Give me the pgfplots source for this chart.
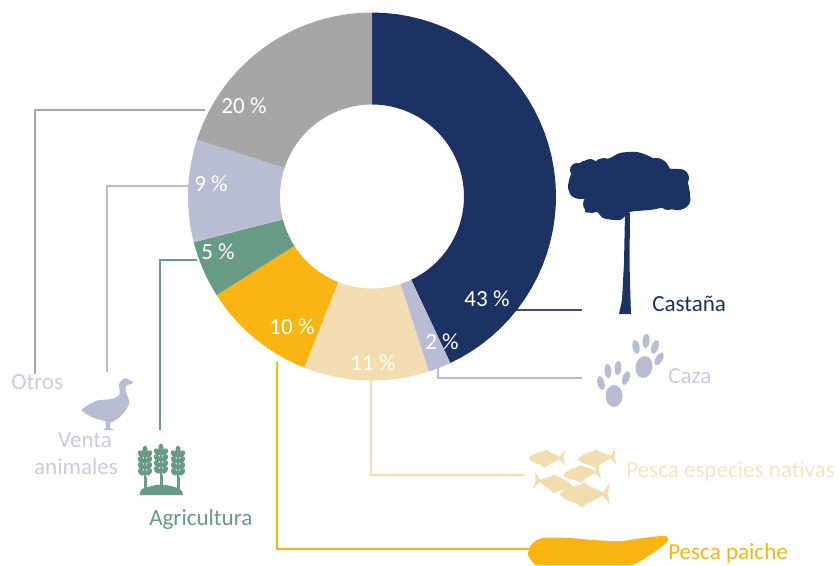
\documentclass[border=0pt]{standalone}
\usepackage{pgfplots}
\pgfplotsset{compat=1.18}
\usepackage{fontspec}
\setmainfont{Carlito}
\definecolor{navy}{HTML}{1B3263}
\definecolor{grisc}{HTML}{A6A6A6}
\definecolor{lav}{HTML}{B8BDD3}
\definecolor{verde}{HTML}{679B86}
\definecolor{ambar}{HTML}{F9B512}
\definecolor{crema}{HTML}{F2DDB1}
\definecolor{cremat}{HTML}{F3E5C8}
\definecolor{lavt}{HTML}{C9CCDC}

% Ring segment running clockwise from the top: #1 share in percent, #2 colour
\newcounter{cumul}
\newcommand\slice[2]{%
  \pgfmathsetmacro\angA{90-3.6*\value{cumul}}%
  \pgfmathsetmacro\angB{\angA-3.6*#1}%
  \gdef\ringpts{}%
  \foreach \i in {0,...,40}{%
    \pgfmathsetmacro\aa{\angA+(\angB-\angA)*\i/40}%
    \pgfmathsetmacro\px{372+184*cos(\aa)}%
    \pgfmathsetmacro\py{196.5-184*sin(\aa)}%
    \xdef\ringpts{\ringpts (\px,\py)}%
  }%
  \foreach \i in {40,...,0}{%
    \pgfmathsetmacro\aa{\angA+(\angB-\angA)*\i/40}%
    \pgfmathsetmacro\px{372+92*cos(\aa)}%
    \pgfmathsetmacro\py{196.5-92*sin(\aa)}%
    \xdef\ringpts{\ringpts (\px,\py)}%
  }%
  \edef\doslice{\noexpand\addplot[fill=#2,draw=none,no marks,forget plot] coordinates {\ringpts} -- cycle;}%
  \doslice
  \addtocounter{cumul}{#1}%
}

\tikzset{
  fish/.pic={
    \fill plot[smooth cycle,tension=.55] coordinates {(-.5,0)(-.36,.12)(-.15,.2)(-.05,.27)(.02,.2)(.2,.11)(.38,.02)(.38,-.02)(.2,-.11)(.05,-.18)(0,-.23)(-.08,-.19)(-.3,-.13)};
    \fill (.33,0)--(.5,.22)--(.46,0)--(.5,-.22)--cycle;},
  wheat/.pic={
    \fill (-1.5,0) rectangle (1.5,16);
    \foreach \yy in {-23,-17,-11,-5}{
      \fill (-3.8,\yy) ellipse [x radius=4.2,y radius=2.8,rotate=-50];
      \fill (3.8,\yy) ellipse [x radius=4.2,y radius=2.8,rotate=50];
    }
    \fill (0,-26) ellipse [x radius=2.8,y radius=5.5];
    \fill (-.8,-26) rectangle (.8,0);}
}

\begin{document}
\begin{tikzpicture}
\useasboundingbox (0,0) rectangle (629.25pt,423.75pt);
\begin{axis}[at={(0,0)},anchor=south west,scale only axis,width=629.25pt,height=423.75pt,
  xmin=0,xmax=839,ymin=0,ymax=565,y dir=reverse,hide axis,clip=false]
% Leader lines from each segment to its caption
\addplot[grisc,line width=1.2pt,no marks,forget plot] coordinates {(205,110)(35,110)(35,374)};
\addplot[lav,line width=1.2pt,no marks,forget plot] coordinates {(190,186)(107,186)(107,372)};
\addplot[verde,line width=1.2pt,no marks,forget plot] coordinates {(197,260)(160,260)(160,430)};
\addplot[ambar,line width=1.6pt,no marks,forget plot] coordinates {(277,362)(277,549)(530,549)};
\addplot[crema,line width=1.2pt,no marks,forget plot] coordinates {(371,380)(371,475)(525,475)};
\addplot[lav,line width=1.2pt,no marks,forget plot] coordinates {(438,368)(438,378)(582,378)};
\addplot[navy!85,line width=1.4pt,no marks,forget plot] coordinates {(515,310)(582,310)};
% Ring segments
\slice{43}{navy}
\slice{2}{lav}
\slice{11}{crema}
\slice{10}{ambar}
\slice{5}{verde}
\slice{9}{lav}
\slice{20}{grisc}
% Shares printed on the segments
\begin{scope}[every node/.style={text=white,font=\fontsize{17.3}{20}\selectfont,inner sep=0pt}]
\node at (487,299) {43 \%};
\node at (442,342) {2 \%};
\node at (373,363) {11 \%};
\node at (292,327) {10 \%};
\node at (218,252) {5 \%};
\node at (211,184) {9 \%};
\node at (244,106) {20 \%};
\end{scope}
% Captions
\begin{scope}[every node/.style={font=\fontsize{17.3}{20}\selectfont,inner sep=0pt,anchor=west}]
\node[text=navy] at (652,304) {Castaña};
\node[text=lavt] at (668,376) {Caza};
\node[text=cremat] at (626,471) {Pesca especies nativas};
\node[text=ambar] at (668,553) {Pesca paiche};
\node[text=verde] at (149,519) {Agricultura};
\node[text=lavt] at (11,382) {Otros};
\node[text=lavt,anchor=center] at (85,440) {Venta};
\node[text=lavt,anchor=center] at (76,467) {animales};
\end{scope}
\end{axis}
% Pictograms, in a frame measured from the top left corner
\begin{scope}[shift={(0,423.75pt)},x=.75pt,y=-.75pt]
  % Brazil nut tree: crown outline with lobes around it
  \fill[navy] plot[smooth cycle,tension=.5] coordinates {(572,172)(583,161)(597,162)(610,158)(620,153)(637,152)(653,158)(667,168)(682,170)(688,183)(690,202)(680,210)(663,208)(650,210)(630,212)(620,220)(603,218)(597,212)(585,212)(588,200)(575,198)(568,188)};
  \begin{scope}[navy]
    \fill (630,184) ellipse [x radius=48,y radius=27];
    \fill (604,171) circle (13);
    \fill (656,172) circle (14);
    \fill (577,170) circle (7);
    \fill (590,167) circle (8);
    \fill (577,190) circle (8);
    \fill (592,204) circle (9);
    \fill (608,210) circle (9);
    \fill (680,178) circle (9);
    \fill (681,200) circle (9);
    \fill (668,202) circle (8);
  \end{scope}
  \fill[navy] (625,213)--(630,213)--(629.5,263)--(630.5,300)--(631,314)--(619,314)--(622,300)--(624,263)--cycle;
  % Paw prints
  \begin{scope}[lav]
    \fill (614,396) ellipse [x radius=8.5,y radius=11];
    \fill (601,383) ellipse [x radius=3.5,y radius=7,rotate=15];
    \fill (608,371) ellipse [x radius=3.5,y radius=7,rotate=5];
    \fill (618,368) ellipse [x radius=3.5,y radius=7,rotate=-5];
    \fill (626,378) ellipse [x radius=3.5,y radius=7,rotate=-20];
    \fill (644,367) ellipse [x radius=8.5,y radius=11,rotate=-10];
    \fill (636,347) ellipse [x radius=3.5,y radius=7,rotate=10];
    \fill (646,341) ellipse [x radius=3.5,y radius=7,rotate=-5];
    \fill (655,347) ellipse [x radius=3.5,y radius=7,rotate=-20];
    \fill (659,359) ellipse [x radius=3.5,y radius=7,rotate=-30];
  \end{scope}
  % Native fish shoal
  \begin{scope}[crema]
    \path (547,458) pic[x=36*.75pt,y=-36*.75pt]{fish};
    \path (597,458) pic[x=38*.75pt,y=-38*.75pt,rotate=4]{fish};
    \path (582,473) pic[x=37*.75pt,y=-37*.75pt,rotate=6]{fish};
    \path (553,483) pic[x=-38*.75pt,y=-38*.75pt,rotate=-8]{fish};
    \path (585,494) pic[x=50*.75pt,y=-50*.75pt]{fish};
  \end{scope}
  % Paiche
  \fill[ambar] plot[smooth,tension=.5] coordinates {(535,565)(528,555)(532,544)(543,538)(570,538)(593,540)(620,541)(643,538)(665,536)(667,542)(653,553)(637,563)(630,565)} -- cycle;
  % Goose
  \fill[lav] plot[smooth cycle,tension=.45] coordinates {(133.3,382.7)(125,378.3)(119.3,383.3)(119.3,395)(110,399.3)(96.7,400.7)(81.7,410)(93.3,417.7)(105,421)(112,422)(122,415)(129.3,403.3)(126.5,393.3)(126,386)};
  \fill[lav] (105,418)--(110,418)--(110,428)--(114,430)--(103,430)--(106,428)--cycle;
  % Cereal plants
  \begin{scope}[verde]
    \fill plot[smooth,tension=.5] coordinates {(140,495)(142,489)(156,485)(166,485)(180,489)(183,495)} -- cycle;
    \path (145,477) pic[x=.75pt,y=-.75pt]{wheat};
    \path (161,475) pic[x=.75pt,y=-.75pt]{wheat};
    \path (178,477) pic[x=.75pt,y=-.75pt]{wheat};
  \end{scope}
\end{scope}
\end{tikzpicture}
\end{document}
